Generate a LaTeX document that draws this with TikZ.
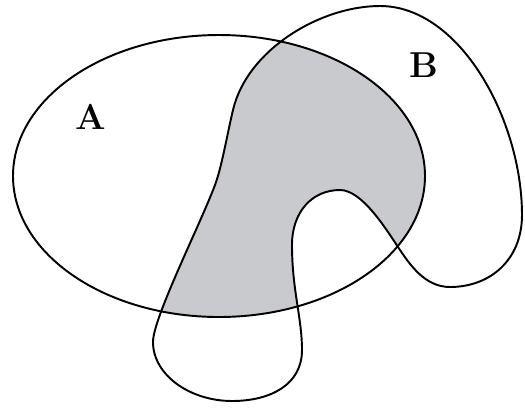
\documentclass[tikz,border=0pt]{standalone}
\usepackage{tikz}
\definecolor{shadegray}{RGB}{200,202,206}
\tikzset{outline/.style={line width=1.1pt,black}}
% outline of B, in pixel units
\newcommand{\blobB}{(380,6) .. controls (460,6) and (522,120) .. (522,215)
  .. controls (522,260) and (490,287) .. (450,287)
  .. controls (425,287) and (410,265) .. (398,247)
  .. controls (386,229) and (362,190) .. (340,190)
  .. controls (312,190) and (292,212) .. (292,245)
  .. controls (292,290) and (302,318) .. (302,350)
  .. controls (302,385) and (270,401) .. (232,401)
  .. controls (190,401) and (153,375) .. (153,342)
  .. controls (153,318) and (200,225) .. (215,185)
  .. controls (222,166) and (227,135) .. (233,110)
  .. controls (247,50) and (320,6) .. cycle}
\newcommand{\ellA}{(219,176) ellipse [x radius=206,y radius=141]}

\begin{document}
\begin{tikzpicture}[x=0.02cm,y=-0.02cm]
\useasboundingbox (0,0) rectangle (525,407);

% shaded intersection
\begin{scope}
\clip \ellA;
\fill[shadegray] \blobB;
\end{scope}

% outlines
\draw[outline] \ellA;
\draw[outline] \blobB;

% labels
\node[font=\fontsize{20.5}{22}\selectfont\bfseries] (labA) at (91,117) {A};
\node[font=\fontsize{20.5}{22}\selectfont\bfseries] (labB) at (424,65) {B};
\end{tikzpicture}
\end{document}
